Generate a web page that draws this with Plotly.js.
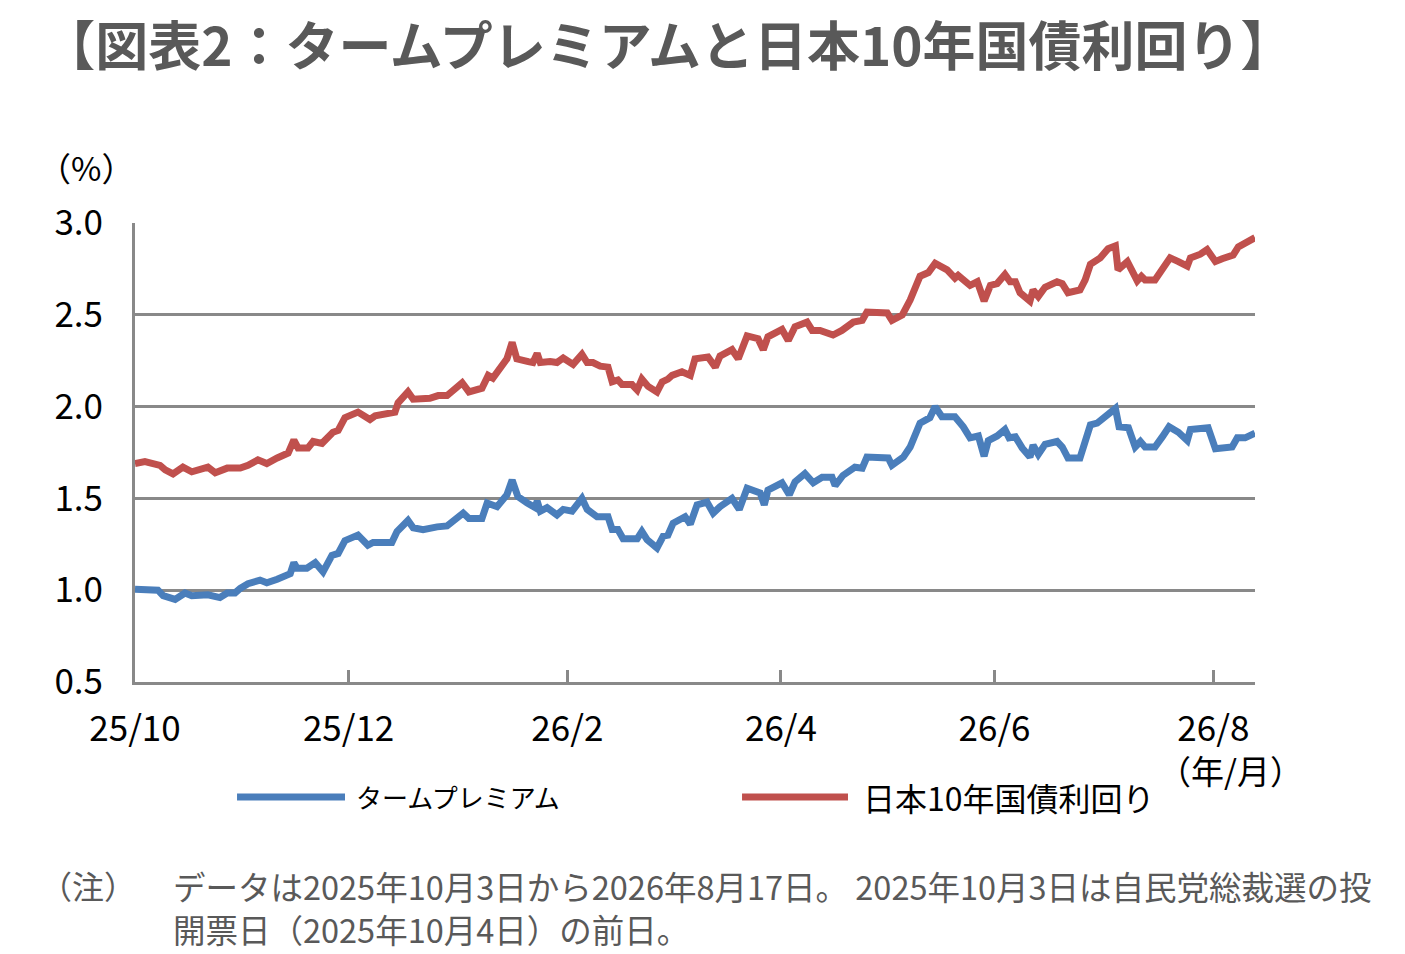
<!DOCTYPE html>
<html>
<head>
<meta charset="utf-8">
<script src="https://cdn.plot.ly/plotly-3.0.1.min.js"></script>
<style>
html,body{margin:0;padding:0;background:#fff;}
#chart{width:1405px;height:954px;}
</style>
</head>
<body>
<div id="chart"></div>
<script>
// Trading-day position counted from 2025-10-03 (index 0) to 2026-08-17 (index 215)
const seriesNames = ['タームプレミアム', '日本10年国債利回り'];
const tickDays = [0, 41, 83, 124, 165, 207];
const tickLabels = ['25/10', '25/12', '26/2', '26/4', '26/6', '26/8'];

const termDays = [0,1.9,4.4,5.4,7.7,9.6,10.9,14.0,15.4,16.3,
17.7,19.2,20.2,21.7,24.0,25.3,27.3,29.8,30.5,31.1,
33.0,34.6,36.1,37.8,39.0,40.3,42.8,44.7,45.7,49.3,
50.3,52.4,53.4,55.3,58.0,59.9,63.0,64.1,66.6,67.6,
69.5,71.4,72.4,73.5,75.3,76.8,77.2,77.8,79.1,81.0,
82.2,83.9,85.8,86.8,88.7,90.8,91.6,92.7,93.7,96.4,
97.3,98.3,100.2,101.4,102.3,103.3,105.6,106.6,107.9,109.8,
111.0,112.3,114.6,116.0,117.5,120.0,120.8,121.5,124.2,125.6,
126.7,128.6,130.2,131.9,133.8,134.4,135.9,138.2,139.6,140.5,
144.6,145.3,147.5,148.8,150.7,152.6,153.6,154.9,157.4,159.0,
160.3,161.9,163.0,163.8,165.5,167.0,167.8,169.0,170.3,171.8,
172.4,173.4,174.7,177.0,178.0,179.1,181.4,182.4,183.4,184.7,
186.6,188.2,188.9,190.7,192.0,193.0,193.9,195.8,197.2,198.5,
200.3,202.0,202.6,204.5,206.0,207.4,210.6,211.6,213.1,215.0];
const termVals = [1.005,1.005,1.0,0.97,0.95,0.985,0.97,0.975,0.96,0.96,
0.985,0.985,1.01,1.035,1.055,1.04,1.06,1.09,1.15,1.12,
1.12,1.15,1.10,1.19,1.20,1.27,1.30,1.245,1.26,1.26,
1.32,1.38,1.34,1.33,1.345,1.35,1.42,1.39,1.39,1.475,
1.455,1.52,1.60,1.51,1.475,1.45,1.485,1.43,1.45,1.41,
1.44,1.43,1.50,1.44,1.40,1.40,1.33,1.33,1.28,1.28,
1.32,1.275,1.23,1.295,1.30,1.365,1.40,1.36,1.465,1.48,
1.42,1.455,1.50,1.44,1.555,1.53,1.465,1.545,1.585,1.52,
1.59,1.635,1.585,1.615,1.615,1.57,1.625,1.67,1.665,1.725,
1.72,1.68,1.725,1.78,1.91,1.94,2.00,1.945,1.945,1.89,
1.83,1.84,1.73,1.815,1.84,1.875,1.83,1.835,1.775,1.725,
1.79,1.74,1.795,1.81,1.78,1.72,1.72,1.815,1.90,1.91,
1.955,1.99,1.89,1.885,1.78,1.81,1.78,1.78,1.835,1.89,
1.86,1.815,1.875,1.885,1.885,1.77,1.78,1.83,1.83,1.855];

const jgbDays = [0,1.9,4.8,5.8,7.3,9.2,10.9,12.5,14.0,15.4,
17.7,20.2,21.7,23.6,25.3,27.3,29.4,30.5,31.3,33.2,
34.2,35.9,38.0,39.0,40.3,42.8,45.1,46.1,49.0,49.9,
50.5,52.4,53.4,54.1,56.6,58.2,59.9,62.8,64.1,66.6,
67.8,68.7,71.4,72.4,73.3,75.5,76.4,77.2,77.8,79.7,
81.0,82.2,84.1,85.8,86.8,87.9,89.3,90.8,91.6,92.7,
93.5,95.4,96.4,97.3,98.5,100.2,101.2,102.3,103.1,105.0,
106.6,107.5,110.0,111.4,112.3,114.6,115.8,117.5,119.6,120.6,
121.5,124.2,125.4,126.7,129.0,130.0,131.5,134.0,135.7,137.9,
139.6,140.5,144.4,145.3,147.3,148.8,150.7,152.3,153.6,155.9,
157.4,158.0,159.0,160.3,161.7,163.0,164.2,165.5,167.0,168.0,
169.0,169.9,171.8,172.4,173.4,174.7,177.0,178.0,179.1,181.4,
182.4,183.4,185.3,186.8,188.2,188.7,190.5,191.6,192.4,193.2,
193.9,195.8,197.2,198.7,200.3,202.0,202.6,204.5,205.8,207.4,
208.7,210.8,211.8,213.5,215.0];
const jgbVals = [1.69,1.70,1.68,1.655,1.633,1.67,1.645,1.66,1.67,1.64,
1.665,1.665,1.68,1.71,1.69,1.72,1.747,1.818,1.775,1.775,
1.81,1.80,1.86,1.87,1.94,1.97,1.93,1.95,1.96,1.97,
2.02,2.08,2.04,2.04,2.045,2.06,2.06,2.13,2.08,2.10,
2.17,2.155,2.26,2.35,2.26,2.245,2.24,2.29,2.24,2.245,
2.24,2.265,2.23,2.285,2.24,2.24,2.22,2.215,2.135,2.145,
2.12,2.12,2.09,2.15,2.11,2.08,2.135,2.15,2.17,2.19,
2.17,2.26,2.27,2.215,2.275,2.31,2.26,2.385,2.37,2.31,
2.38,2.42,2.36,2.435,2.46,2.415,2.415,2.39,2.415,2.46,
2.47,2.515,2.51,2.47,2.50,2.58,2.71,2.73,2.78,2.745,
2.70,2.715,2.69,2.66,2.68,2.575,2.66,2.67,2.72,2.68,
2.68,2.62,2.575,2.635,2.60,2.65,2.68,2.67,2.62,2.635,
2.69,2.775,2.81,2.86,2.875,2.745,2.79,2.715,2.685,2.71,
2.69,2.69,2.755,2.81,2.79,2.765,2.81,2.83,2.855,2.79,
2.805,2.825,2.87,2.895,2.92];

const BLUE = '#4A7EBB';
const RED = '#C0504D';
const GRID = '#898989';
const FONT = '"Noto Sans CJK JP", "Noto Sans", sans-serif';

const traces = [
  {x: termDays, y: termVals, name: seriesNames[0], type: 'scatter', mode: 'lines',
   line: {color: BLUE, width: 7, shape: 'linear'}},
  {x: jgbDays, y: jgbVals, name: seriesNames[1], type: 'scatter', mode: 'lines',
   line: {color: RED, width: 7, shape: 'linear'}}
];

const layout = {
  width: 1405, height: 954,
  paper_bgcolor: '#ffffff', plot_bgcolor: '#ffffff',
  font: {family: FONT, color: '#000000', size: 30},
  showlegend: false,
  margin: {l: 135, r: 150, t: 223, b: 272, pad: 0},
  title: {
    text: '【図表2：タームプレミアムと日本10年国債利回り】',
    font: {family: FONT, size: 53, color: '#595959', weight: 'bold'},
    x: 0.030, xref: 'container', xanchor: 'left',
    y: 1 - 47/954, yref: 'container', yanchor: 'middle'
  },
  xaxis: {
    range: [0, 215],
    tickmode: 'array', tickvals: tickDays, ticktext: tickLabels,
    showgrid: false, zeroline: false,
    showline: true, linecolor: GRID, linewidth: 3,
    ticks: 'inside', ticklen: 12, tickwidth: 3, tickcolor: GRID,
    ticklabelstandoff: 14,
    tickfont: {family: FONT, size: 35, color: '#000000'},
    fixedrange: true
  },
  yaxis: {
    range: [0.5, 3.0],
    tick0: 0.5, dtick: 0.5, tickformat: '.1f',
    showgrid: true, gridcolor: GRID, gridwidth: 3,
    zeroline: false,
    showline: true, linecolor: GRID, linewidth: 3,
    ticks: '', ticklabelstandoff: 22,
    tickfont: {family: FONT, size: 35, color: '#000000'},
    fixedrange: true
  },
  shapes: [
    {type: 'line', xref: 'paper', yref: 'paper', x0: 0.0911, x1: 0.1875, y0: -0.2505, y1: -0.2505,
     line: {color: BLUE, width: 7}},
    {type: 'line', xref: 'paper', yref: 'paper', x0: 0.542, x1: 0.6366, y0: -0.2505, y1: -0.2505,
     line: {color: RED, width: 7}}
  ],
  annotations: [
    {text: '（%）', xref: 'paper', yref: 'paper', x: -0.0437, y: 1.122, xanchor: 'center', yanchor: 'middle',
     showarrow: false, font: {family: FONT, size: 33, color: '#000000'}},
    {text: '（年/月）', xref: 'paper', yref: 'paper', x: 0.9777, y: -0.192, xanchor: 'center', yanchor: 'middle',
     showarrow: false, font: {family: FONT, size: 33, color: '#000000'}},
    {text: seriesNames[0], xref: 'paper', yref: 'paper', x: 0.1955, y: -0.2505, xanchor: 'left', yanchor: 'middle',
     showarrow: false, font: {family: FONT, size: 26, color: '#000000'}},
    {text: seriesNames[1], xref: 'paper', yref: 'paper', x: 0.648, y: -0.2505, xanchor: 'left', yanchor: 'middle',
     showarrow: false, font: {family: FONT, size: 32, color: '#000000'}},
    {text: '（注）', xref: 'paper', yref: 'paper', x: -0.0865, y: -0.4423, xanchor: 'left', yanchor: 'middle',
     showarrow: false, font: {family: FONT, size: 32, color: '#595959'}},
    {text: 'データは2025年10月3日から2026年8月17日。 2025年10月3日は自民党総裁選の投',
     xref: 'paper', yref: 'paper',
     x: 0.032, y: -0.4423, xanchor: 'left', yanchor: 'middle',
     showarrow: false, font: {family: FONT, size: 32.5, color: '#595959'}},
    {text: '開票日（2025年10月4日）の前日。',
     xref: 'paper', yref: 'paper',
     x: 0.032, y: -0.5370, xanchor: 'left', yanchor: 'middle',
     showarrow: false, font: {family: FONT, size: 32.5, color: '#595959'}}
  ]
};

Plotly.newPlot('chart', traces, layout, {displayModeBar: false, staticPlot: true});
</script>
</body>
</html>
